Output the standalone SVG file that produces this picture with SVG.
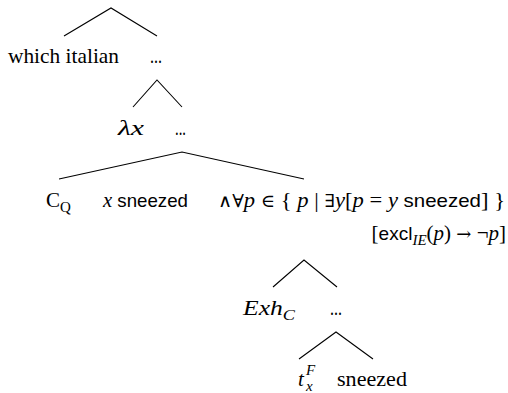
<svg xmlns="http://www.w3.org/2000/svg" width="508" height="393" viewBox="0 0 508 393">
<style>
.r{font-family:"Liberation Serif","Times New Roman","DejaVu Serif",serif;font-size:21px;fill:#000}
.i{font-style:italic}
.s{font-size:15px}
.sans{font-family:"Liberation Sans",Arial,sans-serif;font-size:19px}
.m{font-family:"DejaVu Serif",serif;font-size:18px}
.edge{fill:none;stroke:#000;stroke-width:1.1}
</style>
<rect width="508" height="393" fill="#fff"/>
<g id="connectors">
<polyline class="edge" points="64,36 111,8 157,36"/>
<polyline class="edge" points="133,107 157,80 182,107"/>
<polyline class="edge" points="59,179 182,152 304,179"/>
<polyline class="edge" points="273,287 304,260 337,287"/>
<polyline class="edge" points="299,359 336,332 373,359"/>
</g>
<g id="n-which"><text class="r" x="8" y="63" textLength="111" lengthAdjust="spacingAndGlyphs">which italian</text></g>
<g id="n-dots1"><text class="r" x="150" y="63" textLength="12" lengthAdjust="spacingAndGlyphs">...</text></g>
<g id="n-lambda"><text x="118" y="135" class="r i" textLength="26" lengthAdjust="spacingAndGlyphs">λx</text></g>
<g id="n-dots2"><text class="r" x="175" y="135" textLength="11" lengthAdjust="spacingAndGlyphs">...</text></g>
<g id="n-cq"><text class="r" x="46" y="207">C<tspan class="s" dy="5">Q</tspan></text></g>
<g id="n-xsneezed"><text class="r" x="103" y="207" textLength="85" lengthAdjust="spacingAndGlyphs"><tspan class="i">x</tspan> <tspan class="sans">sneezed</tspan></text></g>
<g id="n-formula">
<text class="r" x="218" y="207" textLength="287" lengthAdjust="spacingAndGlyphs"><tspan class="m">∧∀</tspan><tspan class="i">p</tspan> <tspan class="m">∈</tspan> { <tspan class="i">p</tspan> | <tspan class="m">∃</tspan><tspan class="i">y</tspan>[<tspan class="i">p</tspan> = <tspan class="i">y</tspan> <tspan class="sans">sneezed</tspan>] }</text>
<text class="r" x="506" y="240" text-anchor="end">[<tspan class="sans">excl</tspan><tspan class="s i" dy="5">IE</tspan><tspan dy="-5">(</tspan><tspan class="i">p</tspan>) <tspan class="m">→</tspan> ¬<tspan class="i">p</tspan>]</text>
</g>
<g id="n-exh"><text x="243" y="315" class="r i" textLength="52" lengthAdjust="spacingAndGlyphs">Exh<tspan class="s" dy="5">C</tspan></text></g>
<g id="n-dots3"><text class="r" x="330" y="315" textLength="12" lengthAdjust="spacingAndGlyphs">...</text></g>
<g id="n-t"><text x="298" y="386" class="r i">t</text><text x="306" y="375" class="r i s">F</text><text x="306" y="391" class="r i s">x</text></g>
<g id="n-sneezed"><text class="r" x="337" y="386" textLength="70" lengthAdjust="spacingAndGlyphs">sneezed</text></g>
</svg>
